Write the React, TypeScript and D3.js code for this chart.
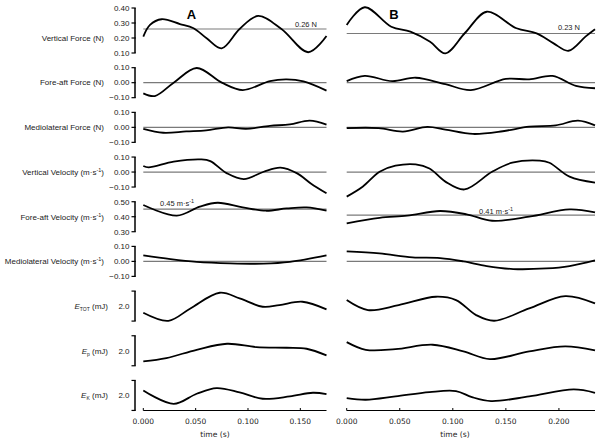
import React from "react";
import * as d3 from "d3";

type P = [number, number];

// ---- data (time in s, value in row units) ----
const vertForceA: P[] = [[0,0.209],[0.0064,0.287],[0.0175,0.325],[0.035,0.293],[0.048,0.265],[0.0605,0.198],[0.0748,0.131],[0.092,0.26],[0.1097,0.347],[0.132,0.26],[0.1575,0.105],[0.175,0.213]];
const vertForceB: P[] = [[0,0.287],[0.017,0.405],[0.042,0.275],[0.06,0.242],[0.0786,0.175],[0.093,0.098],[0.1116,0.235],[0.132,0.375],[0.16,0.265],[0.179,0.231],[0.195,0.164],[0.209,0.115],[0.225,0.209],[0.234,0.258]];
const foreForceA: P[] = [[0,-0.071],[0.011,-0.089],[0.029,0],[0.051,0.098],[0.075,0],[0.095,-0.049],[0.121,0.011],[0.137,0.022],[0.153,0.008],[0.175,-0.053]];
const foreForceB: P[] = [[0,0.01],[0.017,0.045],[0.043,0.01],[0.065,0.033],[0.093,-0.01],[0.117,-0.049],[0.15,0.025],[0.172,0.022],[0.194,0.045],[0.216,-0.022],[0.234,-0.037]];
const mlForceA: P[] = [[0,-0.01],[0.019,-0.036],[0.041,-0.027],[0.06,-0.02],[0.081,0],[0.098,-0.01],[0.121,0.01],[0.14,0.02],[0.159,0.045],[0.175,0.018]];
const mlForceB: P[] = [[0,-0.005],[0.03,-0.005],[0.053,-0.028],[0.076,0.003],[0.093,-0.015],[0.119,-0.044],[0.147,-0.026],[0.172,0.005],[0.197,0.013],[0.218,0.045],[0.234,0.013]];
const vertVelA: P[] = [[0,0.04],[0.005,0.031],[0.029,0.069],[0.055,0.084],[0.064,0.073],[0.08,-0.009],[0.096,-0.047],[0.115,0.002],[0.131,0.029],[0.147,-0.009],[0.16,-0.076],[0.175,-0.142]];
const vertVelB: P[] = [[0,-0.164],[0.015,-0.098],[0.031,0.002],[0.046,0.042],[0.065,0.051],[0.078,0.024],[0.093,-0.064],[0.111,-0.116],[0.137,0.002],[0.156,0.062],[0.182,0.076],[0.191,0.062],[0.21,-0.031],[0.234,-0.071]];
const foreVelA: P[] = [[0,0.478],[0.032,0.407],[0.054,0.467],[0.071,0.493],[0.095,0.463],[0.117,0.44],[0.137,0.455],[0.156,0.462],[0.175,0.44]];
const foreVelB: P[] = [[0,0.356],[0.031,0.393],[0.057,0.407],[0.088,0.438],[0.113,0.416],[0.137,0.373],[0.172,0.4],[0.21,0.449],[0.234,0.429]];
const mlVelA: P[] = [[0,0.04],[0.026,0.015],[0.051,-0.003],[0.083,-0.013],[0.115,-0.015],[0.14,-0.003],[0.175,0.04]];
const mlVelB: P[] = [[0,0.067],[0.031,0.053],[0.062,0.027],[0.088,0.022],[0.11,0],[0.132,-0.031],[0.157,-0.051],[0.188,-0.047],[0.21,-0.031],[0.234,0.007]];
const eTotA: P[] = [[0,1.777],[0.024,1.51],[0.045,1.922],[0.073,2.444],[0.092,2.256],[0.114,1.978],[0.13,2.033],[0.152,2.144],[0.175,1.889]];
const eTotB: P[] = [[0,2.2],[0.02,1.867],[0.049,2.033],[0.084,2.311],[0.103,2.2],[0.122,1.7],[0.139,1.511],[0.172,1.922],[0.206,2.333],[0.234,2.089]];
const ePA: P[] = [[0,1.644],[0.022,1.756],[0.051,2.033],[0.08,2.233],[0.108,2.122],[0.137,2.1],[0.156,2.067],[0.175,1.844]];
const ePB: P[] = [[0,2.289],[0.018,2.033],[0.046,2.056],[0.081,2.2],[0.11,1.978],[0.135,1.722],[0.172,1.978],[0.206,2.144],[0.234,2.011]];
const eKA: P[] = [[0,2.167],[0.029,1.722],[0.051,2.056],[0.07,2.244],[0.092,2.1],[0.114,1.889],[0.14,1.967],[0.162,2.089],[0.175,2.044]];
const eKB: P[] = [[0,1.911],[0.018,1.856],[0.046,1.967],[0.078,2.111],[0.103,2.144],[0.118,1.944],[0.136,1.811],[0.172,1.967],[0.214,2.2],[0.234,2.089]];

const ticksA = [0, 0.05, 0.1, 0.15];
const ticksB = [0, 0.05, 0.1, 0.15, 0.2];
const durA = 0.175;
const durB = 0.234;

type Row = {
  label: React.ReactNode;
  labelX: number;
  domain: [number, number];
  ticks: number[];
  tickFmt: (v: number) => string;
  a: P[];
  b: P[];
  refA?: number;
  refB?: number;
  refLabelA?: React.ReactNode;
  refLabelB?: React.ReactNode;
  bracketTicks?: number[];
};

const f2 = d3.format(".2f");
const f1 = d3.format(".1f");

const sup = (s: string) => <tspan dy={-3} fontSize={5.5}>{s}</tspan>;

const velUnit = (
  <>
    (m·s{sup("-1")}
    <tspan dy={3}>)</tspan>
  </>
);

const eLabel = (sub: string) => (
  <>
    <tspan fontStyle="italic">E</tspan>
    <tspan dy={2} fontSize={5}>{sub}</tspan>
    <tspan dy={-2}> (mJ)</tspan>
  </>
);

const rows: Row[] = [
  { label: "Vertical Force (N)", labelX: 104, domain: [0.1, 0.4], ticks: [0.1, 0.2, 0.3, 0.4], tickFmt: f2, a: vertForceA, b: vertForceB, refA: 0.26, refB: 0.23, refLabelA: "0.26 N", refLabelB: "0.23 N" },
  { label: "Fore-aft Force (N)", labelX: 104, domain: [-0.1, 0.1], ticks: [-0.1, 0, 0.1], tickFmt: f2, a: foreForceA, b: foreForceB, refA: 0, refB: 0 },
  { label: "Mediolateral Force (N)", labelX: 104, domain: [-0.1, 0.1], ticks: [-0.1, 0, 0.1], tickFmt: f2, a: mlForceA, b: mlForceB, refA: 0, refB: 0 },
  { label: <>Vertical Velocity {velUnit}</>, labelX: 104, domain: [-0.1, 0.1], ticks: [-0.1, 0, 0.1], tickFmt: f2, a: vertVelA, b: vertVelB, refA: 0, refB: 0 },
  { label: <>Fore-aft Velocity {velUnit}</>, labelX: 104, domain: [0.3, 0.5], ticks: [0.3, 0.4, 0.5], tickFmt: f2, a: foreVelA, b: foreVelB, refA: 0.45, refB: 0.41, refLabelA: <>0.45 m·s{sup("-1")}</>, refLabelB: <>0.41 m·s{sup("-1")}</> },
  { label: <>Mediolateral Velocity {velUnit}</>, labelX: 104, domain: [-0.1, 0.1], ticks: [-0.1, 0, 0.1], tickFmt: f2, a: mlVelA, b: mlVelB, refA: 0, refB: 0 },
  { label: eLabel("TOT"), labelX: 108, domain: [1.5, 2.5], ticks: [2.0], tickFmt: f1, a: eTotA, b: eTotB, bracketTicks: [1.5, 2.5] },
  { label: eLabel("p"), labelX: 108, domain: [1.5, 2.5], ticks: [2.0], tickFmt: f1, a: ePA, b: ePB, bracketTicks: [1.5, 2.5] },
  { label: eLabel("K"), labelX: 108, domain: [1.5, 2.5], ticks: [2.0], tickFmt: f1, a: eKA, b: eKB, bracketTicks: [1.5, 2.5] },
];

const W = 600;
const H = 443;
const axisX = 135;
const rowCenter0 = 38;
const rowStep = 44.68;
const halfPx = 15;
const xA = d3.scaleLinear().domain([0, durA]).range([143.3, 326.5]);
const xB = d3.scaleLinear().domain([0, durB]).range([346.7, 595]);
const xAxisY = 410.5;

const sans = "'Liberation Sans', Arial, Helvetica, sans-serif";
const verd = "'DejaVu Sans', Verdana, sans-serif";

export default function App() {
  return (
    <svg width={W} height={H} style={{ position: "absolute", left: 0, top: 0, background: "#fff" }} fontFamily={sans}>
      <text x={191.5} y={19.3} fontSize={13} fontWeight="bold" textAnchor="middle">A</text>
      <text x={394} y={18.6} fontSize={13} fontWeight="bold" textAnchor="middle">B</text>
      {rows.map((r, i) => {
        const yc = rowCenter0 + rowStep * i;
        const mid = (r.domain[0] + r.domain[1]) / 2;
        const span = r.domain[1] - r.domain[0];
        const isTall = r.ticks.length === 4;
        // row 0 extends one more tick upward: center at 0.20
        const center = isTall ? 0.2 : mid;
        const pxPer = isTall ? 150 : (2 * halfPx) / span;
        const y = d3.scaleLinear().domain([center - 1, center + 1]).range([yc + pxPer, yc - pxPer]);
        const line = (xs: d3.ScaleLinear<number, number>) =>
          d3.line<P>().x((d) => xs(d[0])).y((d) => y(d[1])).curve(d3.curveCatmullRom.alpha(0.5));
        const axTop = y(r.domain[1]);
        const axBot = y(r.domain[0]);
        const tickVals = r.bracketTicks ? [...r.bracketTicks] : r.ticks;
        return (
          <g key={i}>
            <text x={r.labelX} y={yc + 2.8} fontSize={8} textAnchor="end" fill="#222">{r.label}</text>
            <line x1={axisX} x2={axisX} y1={axTop} y2={axBot} stroke="#000" strokeWidth={1.5} />
            {tickVals.map((t) => (
              <line key={t} x1={axisX - 3.5} x2={axisX + 0.75} y1={y(t)} y2={y(t)} stroke="#000" strokeWidth={1.2} />
            ))}
            {r.ticks.map((t) => (
              <text key={"l" + t} x={129.5} y={y(t) + 2.8} fontSize={8} textAnchor="end" fill="#222">{r.tickFmt(t)}</text>
            ))}
            {r.refA !== undefined && (
              <line x1={xA.range()[0]} x2={xA.range()[1]} y1={y(r.refA)} y2={y(r.refA)} stroke="#7a7a7a" strokeWidth={1.2} />
            )}
            {r.refB !== undefined && (
              <line x1={xB.range()[0]} x2={xB.range()[1]} y1={y(r.refB)} y2={y(r.refB)} stroke="#7a7a7a" strokeWidth={1.2} />
            )}
            <path d={line(xA)(r.a) || ""} fill="none" stroke="#000" strokeWidth={1.8} />
            <path d={line(xB)(r.b) || ""} fill="none" stroke="#000" strokeWidth={1.8} />
            {i === 0 && (
              <>
                <text x={317} y={27} fontSize={7.5} textAnchor="end" fill="#222">{r.refLabelA}</text>
                <text x={580} y={30} fontSize={7.5} textAnchor="end" fill="#222">{r.refLabelB}</text>
              </>
            )}
            {i === 4 && (
              <>
                <text x={160} y={206} fontSize={7.5} fill="#222">{r.refLabelA}</text>
                <text x={479} y={213.5} fontSize={7.5} fill="#222">{r.refLabelB}</text>
              </>
            )}
          </g>
        );
      })}
      {[
        { xs: xA, ticks: ticksA, labelX: 215 },
        { xs: xB, ticks: ticksB, labelX: 455 },
      ].map((ax, k) => (
        <g key={"ax" + k}>
          <line x1={ax.xs.range()[0]} x2={ax.xs.range()[1]} y1={xAxisY} y2={xAxisY} stroke="#000" strokeWidth={1} />
          {ax.ticks.map((t) => (
            <g key={t}>
              <line x1={ax.xs(t)} x2={ax.xs(t)} y1={xAxisY} y2={xAxisY - 2.5} stroke="#000" strokeWidth={1} />
              <text x={ax.xs(t)} y={423.5} fontSize={7.5} fontFamily={verd} textAnchor="middle" fill="#222">{d3.format(".3f")(t)}</text>
            </g>
          ))}
          <text x={ax.labelX} y={436.5} fontSize={7.6} fontFamily={verd} textAnchor="middle" fill="#222">time (s)</text>
        </g>
      ))}
    </svg>
  );
}
